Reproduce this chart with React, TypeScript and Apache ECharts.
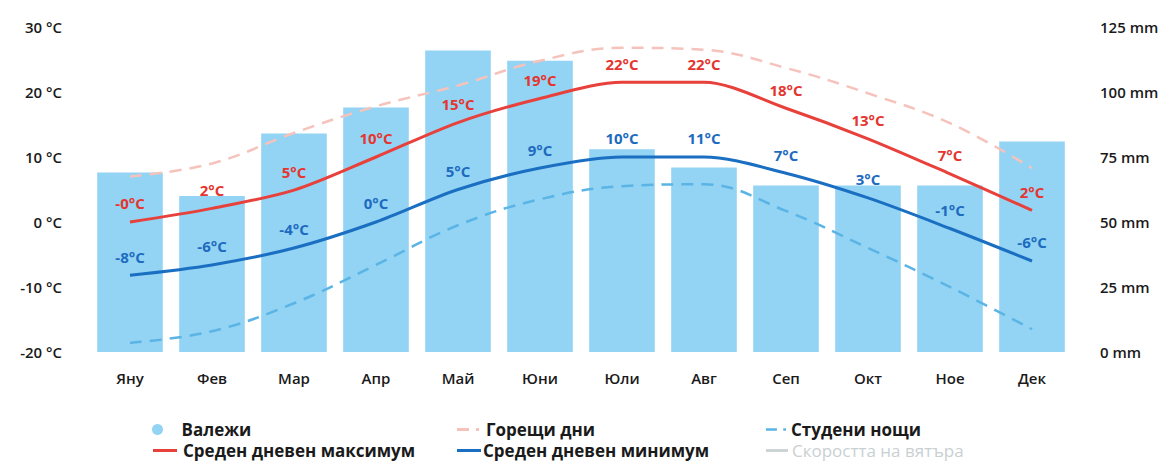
import React, { useEffect, useRef } from "react";
import * as echarts from "echarts";

const months = ["Яну", "Фев", "Мар", "Апр", "Май", "Юни", "Юли", "Авг", "Сеп", "Окт", "Ное", "Дек"];
const precipitation = [69, 60, 84, 94, 116, 112, 78, 71, 64, 64, 64, 81];
const avgMax = [0, 2.1, 4.9, 10, 15.3, 19, 21.5, 21.5, 17.5, 12.8, 7.4, 1.8];
const avgMin = [-8.2, -6.6, -4, 0, 5, 8.3, 10, 10, 7.5, 3.7, -1, -6];
const hotDays = [7, 9, 13.7, 17.8, 21, 24.8, 26.8, 26.5, 23.7, 19.8, 15.2, 8.3];
const coldNights = [-18.6, -16.8, -12.5, -6.6, -0.5, 3.5, 5.5, 5.8, 1.7, -4, -10, -16.5];
const maxLabels = ["-0°C", "2°C", "5°C", "10°C", "15°C", "19°C", "22°C", "22°C", "18°C", "13°C", "7°C", "2°C"];
const minLabels = ["-8°C", "-6°C", "-4°C", "0°C", "5°C", "9°C", "10°C", "11°C", "7°C", "3°C", "-1°C", "-6°C"];
const tempTicks = { min: -20, max: 30, interval: 10 };
const precTicks = { min: 0, max: 125, interval: 25 };

const FONT = "'Open Sans', 'DejaVu Sans', sans-serif";
const RED = "#e8413b";
const BLUE = "#1b6fc2";
const BAR = "#93d3f3";
const PINK = "#f5c3bc";
const LBLUE = "#5ab4e5";
const GREY = "#c9d0d3";

const DASH_ICON = "path://M0,0h12v3h-12z M19,0h3v3h-3z";
const LINE_ICON = "path://M0,0h24v3h-24z";

export default function App() {
  const ref = useRef<HTMLDivElement>(null);
  useEffect(() => {
    const chart = echarts.init(ref.current!, null, { renderer: "svg" });
    const mkLegend = (
      name: string,
      left: number,
      top: number,
      icon: string,
      w: number,
      h: number,
      color = "#1a1a1a",
      weight: any = 700,
      pad = 3
    ) => ({
      data: [{ name, icon }],
      left,
      top,
      orient: "horizontal",
      itemWidth: w,
      itemHeight: h,
      selectedMode: false,
      textStyle: { fontFamily: FONT, fontWeight: weight, fontSize: 17, color, padding: [0, 0, 0, pad] },
    });
    chart.setOption({
      animation: false,
      textStyle: { fontFamily: FONT },
      grid: { left: 89, right: 95, top: 27, bottom: 112 },
      legend: [
        mkLegend("Валежи", 147, 416, "circle", 24, 11, "#1a1a1a", 700, 7),
        mkLegend("Среден дневен максимум", 148, 437, LINE_ICON, 24, 3, "#1a1a1a", 700, 1),
        mkLegend("Горещи дни", 452, 416, DASH_ICON, 24, 3, "#1a1a1a", 700, 1),
        mkLegend("Среден дневен минимум", 452, 437, LINE_ICON, 24, 3, "#1a1a1a", 700, -3),
        mkLegend("Студени нощи", 761, 416, DASH_ICON, 20, 3, "#1a1a1a", 700, 0),
        mkLegend("Скоростта на вятъра", 761, 437, LINE_ICON, 22, 3, GREY, 400, -1),
      ],
      xAxis: {
        type: "category",
        data: months,
        axisLine: { show: false },
        axisTick: { show: false },
        axisLabel: { fontFamily: FONT, fontSize: 15, fontWeight: 600, color: "#1a1a1a", margin: 18 },
      },
      yAxis: [
        {
          type: "value",
          ...tempTicks,
          splitLine: { show: false },
          axisLine: { show: false },
          axisTick: { show: false },
          axisLabel: {
            formatter: (v: number) => `${v} °C`,
            fontFamily: FONT,
            fontSize: 15,
            fontWeight: 600,
            color: "#1a1a1a",
            margin: 27,
          },
        },
        {
          type: "value",
          ...precTicks,
          position: "right",
          splitLine: { show: false },
          axisLine: { show: false },
          axisTick: { show: false },
          axisLabel: {
            formatter: (v: number) => `${v} mm`,
            fontFamily: FONT,
            fontSize: 15,
            fontWeight: 600,
            color: "#1a1a1a",
            margin: 27,
          },
        },
      ],
      series: [
        {
          name: "Валежи",
          type: "bar",
          yAxisIndex: 1,
          data: precipitation,
          barCategoryGap: "20%",
          itemStyle: { color: BAR },
          z: 1,
        },
        {
          name: "Горещи дни",
          type: "line",
          data: hotDays,
          smooth: 0.4,
          symbol: "none",
          lineStyle: { color: PINK, width: 2.5, type: [12, 8] },
          itemStyle: { color: PINK },
          z: 3,
        },
        {
          name: "Студени нощи",
          type: "line",
          data: coldNights,
          smooth: 0.4,
          symbol: "none",
          lineStyle: { color: LBLUE, width: 2.5, type: [12, 8] },
          itemStyle: { color: LBLUE },
          z: 3,
        },
        {
          name: "Среден дневен максимум",
          type: "line",
          data: avgMax,
          smooth: 0.3,
          symbol: "circle",
          symbolSize: 0.1,
          showSymbol: true,
          lineStyle: { color: RED, width: 3 },
          itemStyle: { color: RED },
          label: {
            show: true,
            position: "top",
            distance: 11,
            formatter: (p: any) => maxLabels[p.dataIndex],
            fontFamily: FONT,
            fontSize: 15,
            fontWeight: 700,
            color: "#e5352f",
          },
          z: 4,
        },
        {
          name: "Среден дневен минимум",
          type: "line",
          data: avgMin,
          smooth: 0.3,
          symbol: "circle",
          symbolSize: 0.1,
          showSymbol: true,
          lineStyle: { color: BLUE, width: 3 },
          itemStyle: { color: BLUE },
          label: {
            show: true,
            position: "top",
            distance: 11,
            formatter: (p: any) => minLabels[p.dataIndex],
            fontFamily: FONT,
            fontSize: 15,
            fontWeight: 700,
            color: "#1d6bbf",
          },
          z: 4,
        },
        {
          name: "Скоростта на вятъра",
          type: "line",
          data: [],
          symbol: "none",
          lineStyle: { color: GREY, width: 2.5 },
          itemStyle: { color: GREY },
        },
      ],
    });
    return () => chart.dispose();
  }, []);
  return (
    <div
      ref={ref}
      style={{ position: "fixed", left: 0, top: 0, width: 1168, height: 464, background: "#fff" }}
    />
  );
}
